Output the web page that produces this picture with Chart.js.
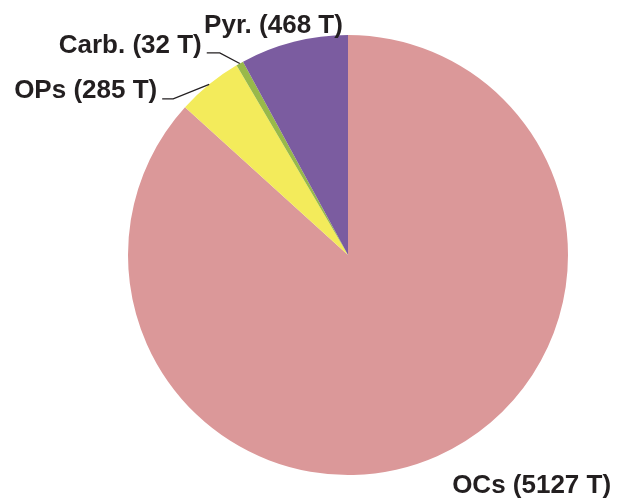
<!DOCTYPE html>
<html>
<head>
<meta charset="utf-8">
<script src="https://cdn.jsdelivr.net/npm/chart.js@4/dist/chart.umd.min.js"></script>
<style>
  html, body { margin: 0; padding: 0; background: #fff; }
  canvas { display: block; }
</style>
</head>
<body>
<canvas id="pieChart" width="618" height="499"></canvas>
<script>
// Data (tonnes)
const categories = ["OCs", "OPs", "Carb.", "Pyr."];
const tonnes = [5127, 285, 32, 468];
const sliceColors = ["#db9899", "#f3eb5b", "#98b94a", "#7b5ca0"];

// where each label sits relative to the middle of its slice's outer edge
const labelPlacement = [
  { align: "left", dx: 15, dy: 37 },
  { align: "right", dx: -52, dy: 14, line: [-47, -36, 14.5] },
  { align: "right", dx: -38, dy: -10.5, line: [-33, -20, -10.5] },
  { align: "right", dx: 49, dy: -9 }
];

const sliceLabels = {
  id: "sliceLabels",
  afterDatasetsDraw(chart) {
    const ctx = chart.ctx;
    const arcs = chart.getDatasetMeta(0).data;
    ctx.save();
    ctx.fillStyle = "#231f20";
    ctx.strokeStyle = "#231f20";
    ctx.lineWidth = 1.3;
    ctx.font = "bold 26px 'Liberation Sans', Arial, sans-serif";
    ctx.textBaseline = "alphabetic";
    arcs.forEach((arc, i) => {
      const p = arc.getProps(["x", "y", "startAngle", "endAngle", "outerRadius"], true);
      const mid = (p.startAngle + p.endAngle) / 2;
      const ex = p.x + Math.cos(mid) * p.outerRadius;
      const ey = p.y + Math.sin(mid) * p.outerRadius;
      const place = labelPlacement[i];
      if (place.line) {
        ctx.beginPath();
        ctx.moveTo(ex + place.line[0], ey + place.line[2]);
        ctx.lineTo(ex + place.line[1], ey + place.line[2]);
        ctx.lineTo(ex, ey);
        ctx.stroke();
      }
      ctx.textAlign = place.align;
      ctx.fillText(categories[i] + " (" + tonnes[i] + " T)", ex + place.dx, ey + place.dy);
    });
    ctx.restore();
  }
};

const pieChart = new Chart(document.getElementById("pieChart"), {
  type: "pie",
  data: {
    labels: categories,
    datasets: [
      {
        data: tonnes,
        backgroundColor: sliceColors,
        borderWidth: 0
      }
    ]
  },
  options: {
    responsive: false,
    animation: false,
    layout: {
      padding: { left: 128, right: 50, top: 35, bottom: 24 }
    },
    plugins: {
      legend: { display: false },
      tooltip: { enabled: false }
    }
  },
  plugins: [sliceLabels]
});
</script>
</body>
</html>
